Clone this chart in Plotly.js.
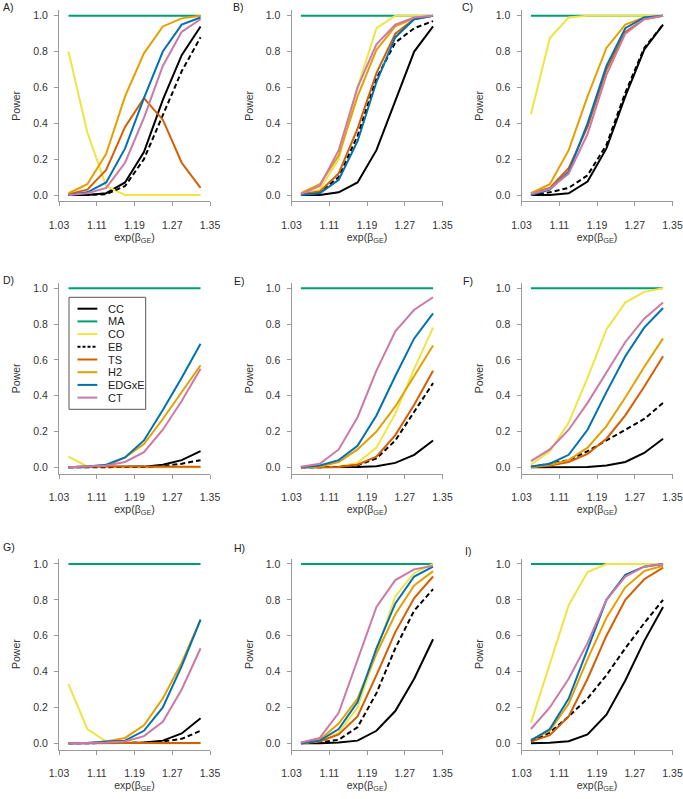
<!DOCTYPE html>
<html>
<head>
<meta charset="utf-8">
<script src="https://cdn.plot.ly/plotly-3.0.1.min.js"></script>
<style>
  html, body { margin: 0; padding: 0; background: #fff; }
  #grafico { width: 683px; height: 799px; }
</style>
</head>
<body>
<div id="grafico"></div>
<script>
// effect sizes exp(beta_GE)
var xValues = [1.05, 1.09, 1.13, 1.17, 1.21, 1.25, 1.29, 1.33];

// series, in plotting order
var seriesNames = ['CC', 'MA', 'CO', 'EB', 'TS', 'H2', 'EDGxE', 'CT'];

// power per panel, one row per series (same order as seriesNames)
var powerA = [
  [0, 0, 0.01, 0.07, 0.24, 0.53, 0.78, 0.94],
  [1, 1, 1, 1, 1, 1, 1, 1],
  [0.80, 0.35, 0.05, 0, 0, 0, 0, 0],
  [0, 0, 0.005, 0.05, 0.20, 0.44, 0.69, 0.88],
  [0.005, 0.03, 0.14, 0.38, 0.54, 0.42, 0.18, 0.04],
  [0.01, 0.06, 0.23, 0.55, 0.79, 0.94, 0.985, 1.0],
  [0, 0.015, 0.07, 0.26, 0.54, 0.80, 0.95, 0.99],
  [0, 0.01, 0.04, 0.18, 0.43, 0.72, 0.91, 0.98]
];
var powerB = [
  [0, 0, 0.015, 0.07, 0.25, 0.53, 0.80, 0.94],
  [1, 1, 1, 1, 1, 1, 1, 1],
  [0.005, 0.03, 0.20, 0.60, 0.93, 1.0, 1.0, 1.0],
  [0, 0.015, 0.10, 0.33, 0.65, 0.85, 0.93, 0.97],
  [0.005, 0.02, 0.12, 0.37, 0.68, 0.90, 0.98, 1.0],
  [0.01, 0.06, 0.22, 0.55, 0.81, 0.94, 0.985, 1.0],
  [0, 0.01, 0.085, 0.30, 0.63, 0.88, 0.98, 1.0],
  [0.005, 0.05, 0.25, 0.60, 0.84, 0.95, 0.99, 1.0]
];
var powerC = [
  [0, 0, 0.01, 0.075, 0.26, 0.55, 0.81, 0.95],
  [1, 1, 1, 1, 1, 1, 1, 1],
  [0.45, 0.875, 0.99, 1.0, 1.0, 1.0, 1.0, 1.0],
  [0, 0.015, 0.04, 0.11, 0.28, 0.57, 0.82, 0.95],
  [0.01, 0.04, 0.15, 0.38, 0.70, 0.91, 0.98, 1.0],
  [0.01, 0.06, 0.25, 0.55, 0.82, 0.95, 0.99, 1.0],
  [0, 0.03, 0.13, 0.40, 0.72, 0.93, 0.99, 1.0],
  [0.005, 0.035, 0.12, 0.34, 0.67, 0.90, 0.98, 1.0]
];
var powerD = [
  [0, 0, 0, 0.002, 0.004, 0.015, 0.04, 0.09],
  [1, 1, 1, 1, 1, 1, 1, 1],
  [0.06, 0.005, 0, 0, 0, 0, 0, 0],
  [0, 0, 0, 0, 0.002, 0.008, 0.02, 0.04],
  [0, 0.005, 0.005, 0.005, 0.005, 0.005, 0.005, 0.003],
  [0, 0.005, 0.01, 0.055, 0.13, 0.27, 0.42, 0.57],
  [0, 0.005, 0.015, 0.055, 0.15, 0.32, 0.50, 0.69],
  [0, 0.005, 0.01, 0.03, 0.085, 0.21, 0.37, 0.55]
];
var powerE = [
  [0, 0, 0, 0.002, 0.006, 0.025, 0.07, 0.15],
  [1, 1, 1, 1, 1, 1, 1, 1],
  [0, 0, 0.005, 0.025, 0.11, 0.30, 0.55, 0.78],
  [0, 0, 0.002, 0.012, 0.05, 0.15, 0.31, 0.47],
  [0, 0, 0.002, 0.015, 0.06, 0.18, 0.35, 0.54],
  [0, 0.005, 0.03, 0.10, 0.20, 0.34, 0.51, 0.68],
  [0, 0.01, 0.04, 0.12, 0.29, 0.51, 0.72, 0.86],
  [0.003, 0.02, 0.10, 0.28, 0.54, 0.76, 0.88, 0.95]
];
var powerF = [
  [0, 0, 0, 0.002, 0.01, 0.03, 0.08, 0.16],
  [1, 1, 1, 1, 1, 1, 1, 1],
  [0.015, 0.09, 0.25, 0.50, 0.77, 0.92, 0.98, 1.0],
  [0.002, 0.02, 0.04, 0.09, 0.15, 0.21, 0.27, 0.36],
  [0, 0.01, 0.03, 0.075, 0.16, 0.29, 0.45, 0.62],
  [0, 0.015, 0.04, 0.11, 0.23, 0.39, 0.56, 0.72],
  [0.005, 0.02, 0.07, 0.21, 0.42, 0.62, 0.78, 0.89],
  [0.035, 0.10, 0.21, 0.36, 0.53, 0.70, 0.83, 0.92]
];
var powerG = [
  [0, 0, 0, 0.002, 0.005, 0.015, 0.055, 0.14],
  [1, 1, 1, 1, 1, 1, 1, 1],
  [0.33, 0.08, 0.01, 0.005, 0.002, 0.001, 0, 0],
  [0, 0, 0, 0.001, 0.003, 0.01, 0.025, 0.07],
  [0.002, 0.002, 0.002, 0.002, 0.002, 0.002, 0.002, 0.002],
  [0, 0.002, 0.01, 0.03, 0.10, 0.25, 0.45, 0.69],
  [0, 0.002, 0.01, 0.015, 0.07, 0.20, 0.43, 0.69],
  [0, 0.001, 0.005, 0.01, 0.04, 0.12, 0.30, 0.53]
];
var powerH = [
  [0, 0, 0.005, 0.015, 0.07, 0.18, 0.36, 0.58],
  [1, 1, 1, 1, 1, 1, 1, 1],
  [0, 0.01, 0.06, 0.20, 0.51, 0.82, 0.95, 1.0],
  [0, 0.005, 0.02, 0.09, 0.28, 0.53, 0.74, 0.86],
  [0, 0.01, 0.05, 0.15, 0.38, 0.62, 0.81, 0.93],
  [0.005, 0.02, 0.11, 0.25, 0.50, 0.72, 0.88, 0.96],
  [0, 0.015, 0.08, 0.23, 0.53, 0.78, 0.93, 0.985],
  [0.005, 0.03, 0.17, 0.47, 0.76, 0.91, 0.97, 0.99]
];
var powerI = [
  [0, 0.003, 0.012, 0.05, 0.16, 0.35, 0.57, 0.76],
  [1, 1, 1, 1, 1, 1, 1, 1],
  [0.115, 0.44, 0.77, 0.955, 1.0, 1.0, 1.0, 1.0],
  [0.01, 0.06, 0.15, 0.25, 0.38, 0.53, 0.67, 0.80],
  [0.01, 0.045, 0.15, 0.36, 0.60, 0.80, 0.915, 0.98],
  [0.02, 0.07, 0.22, 0.47, 0.70, 0.87, 0.96, 0.99],
  [0.015, 0.08, 0.25, 0.53, 0.80, 0.94, 0.985, 1.0],
  [0.08, 0.20, 0.36, 0.56, 0.80, 0.93, 0.985, 1.0]
];

var panelLabels = ['A)', 'B)', 'C)', 'D)', 'E)', 'F)', 'G)', 'H)', 'I)'];
var panels = [powerA, powerB, powerC, powerD, powerE, powerF, powerG, powerH, powerI];
var xTicks = [1.03, 1.11, 1.19, 1.27, 1.35];
var yTicks = [0, 0.2, 0.4, 0.6, 0.8, 1.0];

// estilo
var colores = ['#000000', '#009E73', '#F0E442', '#000000', '#D55E00', '#E69F00', '#0072B2', '#CC79A7'];
var guiones = ['solid', 'solid', 'solid', '5px,3px', 'solid', 'solid', 'solid', 'solid'];
var fuente = 'Liberation Sans, Arial, Helvetica, sans-serif';
var W = 683, H = 799;

// panel boxes in pixels
var cols = [[59, 210], [291.5, 442.5], [521.5, 672.5]];
var rows = [[10.3, 201.3], [282.9, 473.6], [558.6, 749.6]];
var labelPos = [[1, 7], [231, 7], [460, 7], [1, 280], [232, 281], [461, 281], [1, 547], [232, 548], [463, 551]];

var data = [];
var layout = {
  width: W, height: H,
  margin: {l: 0, r: 0, t: 0, b: 0},
  paper_bgcolor: '#fff', plot_bgcolor: '#fff',
  showlegend: false,
  font: {family: fuente, size: 10.5, color: '#333'},
  annotations: [],
  shapes: []
};

panels.forEach(function (panel, p) {
  var sufijo = p === 0 ? '' : String(p + 1);
  var col = cols[p % 3], row = rows[Math.floor(p / 3)];

  panel.forEach(function (yv, s) {
    data.push({
      x: xValues, y: yv,
      xaxis: 'x' + sufijo, yaxis: 'y' + sufijo,
      type: 'scatter', mode: 'lines',
      name: seriesNames[s],
      line: {color: colores[s], width: 2, dash: guiones[s]},
      hoverinfo: 'skip'
    });
  });

  layout['xaxis' + sufijo] = {
    domain: [col[0] / W, col[1] / W],
    anchor: 'y' + sufijo,
    range: [1.03, 1.35],
    tickvals: xTicks, ticktext: xTicks.map(function (v) { return v.toFixed(2); }),
    showgrid: false, zeroline: false,
    showline: true, linecolor: '#9a9a9a', linewidth: 1,
    ticks: 'outside', ticklen: 4, tickcolor: '#9a9a9a',
    ticklabelstandoff: 10,
    tickfont: {size: 10.5, color: '#333'},
    title: {text: 'exp(β<sub>GE</sub>)', font: {size: 10.5, color: '#333'}, standoff: 3}
  };
  layout['yaxis' + sufijo] = {
    domain: [1 - row[1] / H, 1 - row[0] / H],
    anchor: 'x' + sufijo,
    range: [-0.035, 1.03],
    tickvals: yTicks, ticktext: yTicks.map(function (v) { return v.toFixed(1); }),
    showgrid: false, zeroline: false,
    showline: true, linecolor: '#9a9a9a', linewidth: 1,
    ticks: 'outside', ticklen: 4, tickcolor: '#9a9a9a',
    ticklabelstandoff: 4,
    tickfont: {size: 10.5, color: '#333'},
    title: {text: 'Power', font: {size: 10.5, color: '#333'}, standoff: 10}
  };

  layout.annotations.push({
    text: panelLabels[p], xref: 'paper', yref: 'paper',
    x: labelPos[p][0] / W, y: 1 - labelPos[p][1] / H,
    xanchor: 'left', yanchor: 'middle', showarrow: false,
    font: {size: 10.5, color: '#222'}
  });
});

// legend box inside panel D
var legBox = {x0: 69, x1: 145.7, y0: 297.3, y1: 409.3};
layout.shapes.push({
  type: 'rect', xref: 'paper', yref: 'paper',
  x0: legBox.x0 / W, x1: legBox.x1 / W,
  y0: 1 - legBox.y0 / H, y1: 1 - legBox.y1 / H,
  line: {color: '#555', width: 1}, fillcolor: '#fff', layer: 'above'
});
seriesNames.forEach(function (nombre, s) {
  var yy = 308.7 + s * 12.7;
  layout.shapes.push({
    type: 'line', xref: 'paper', yref: 'paper',
    x0: 77.5 / W, x1: 97.3 / W, y0: 1 - yy / H, y1: 1 - yy / H,
    line: {color: colores[s], width: 2, dash: guiones[s] === 'solid' ? 'solid' : '3px,2px'},
    layer: 'above'
  });
  layout.annotations.push({
    text: nombre, xref: 'paper', yref: 'paper',
    x: 106 / W, y: 1 - yy / H, xanchor: 'left', yanchor: 'middle',
    showarrow: false, font: {size: 11, color: '#222'}
  });
});

Plotly.newPlot('grafico', data, layout, {displayModeBar: false, staticPlot: true});
</script>
</body>
</html>
